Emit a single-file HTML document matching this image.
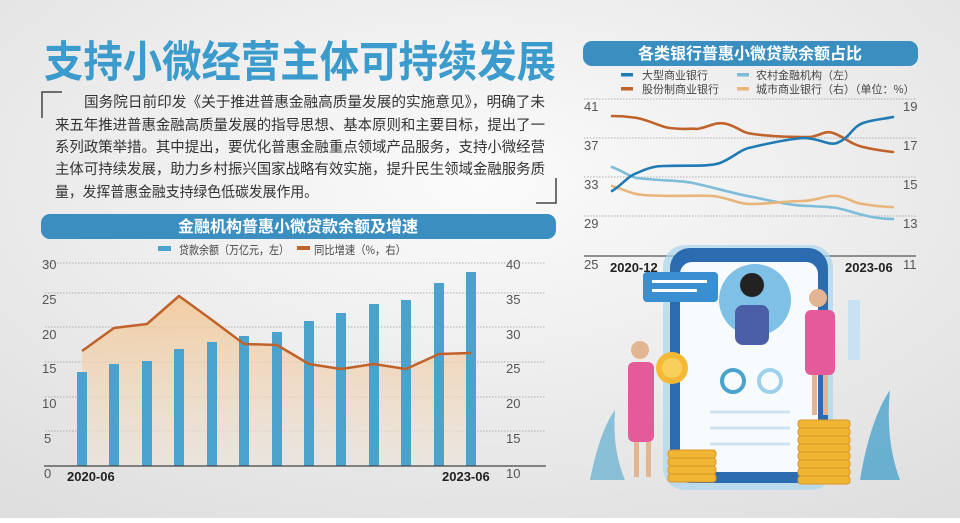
<!DOCTYPE html>
<html><head><meta charset="utf-8"><style>
html,body{margin:0;padding:0}
body{width:960px;height:518px;overflow:hidden;font-family:"Liberation Sans","Noto Sans CJK SC",sans-serif}
</style></head><body>
<svg width="960" height="518" viewBox="0 0 960 518" xmlns="http://www.w3.org/2000/svg" font-family="Liberation Sans, Noto Sans CJK SC, sans-serif">
<defs>
<radialGradient id="bg" cx="0.5" cy="0.35" r="0.8">
<stop offset="0" stop-color="#fbfbfb"/><stop offset="1" stop-color="#dedede"/></radialGradient>
<linearGradient id="fill" x1="0" y1="0" x2="0" y2="1">
<stop offset="0" stop-color="#f3c795" stop-opacity="0.85"/><stop offset="1" stop-color="#ece4da" stop-opacity="0.6"/></linearGradient>
</defs>
<rect width="960" height="518" fill="url(#bg)"/>
<text x="44" y="77" font-size="43" font-weight="bold" fill="#3a9bcc" textLength="512" lengthAdjust="spacingAndGlyphs" font-family="Noto Sans CJK SC, sans-serif">支持小微经营主体可持续发展</text>
<path d="M62,92 H42 V118" fill="none" stroke="#444" stroke-width="1.5"/>
<path d="M556,178 V203 H536" fill="none" stroke="#444" stroke-width="1.5"/>
<g font-size="14.5" fill="#333" font-family="Noto Sans CJK SC, sans-serif">
<text x="84" y="107" textLength="461" lengthAdjust="spacingAndGlyphs">国务院日前印发《关于推进普惠金融高质量发展的实施意见》，明确了未</text>
<text x="55" y="130" textLength="490" lengthAdjust="spacingAndGlyphs">来五年推进普惠金融高质量发展的指导思想、基本原则和主要目标，提出了一</text>
<text x="55" y="152" textLength="490" lengthAdjust="spacingAndGlyphs">系列政策举措。其中提出，要优化普惠金融重点领域产品服务，支持小微经营</text>
<text x="55" y="174" textLength="490" lengthAdjust="spacingAndGlyphs">主体可持续发展，助力乡村振兴国家战略有效实施，提升民生领域金融服务质</text>
<text x="55" y="197" textLength="263" lengthAdjust="spacingAndGlyphs">量，发挥普惠金融支持绿色低碳发展作用。</text>
</g>

<rect x="41" y="214" width="515" height="25" rx="9" fill="#3a8fc0"/>
<text x="298" y="232" font-size="16" font-weight="bold" fill="#fff" text-anchor="middle" font-family="Noto Sans CJK SC, sans-serif">金融机构普惠小微贷款余额及增速</text>
<rect x="158" y="246" width="13" height="5" fill="#4aa3cc"/>
<text x="179" y="254" font-size="11.5" fill="#444" font-family="Noto Sans CJK SC, sans-serif" textLength="110" lengthAdjust="spacingAndGlyphs">贷款余额（万亿元，左）</text>
<rect x="297" y="246" width="13" height="4" fill="#c0622a"/>
<text x="314" y="254" font-size="11.5" fill="#444" font-family="Noto Sans CJK SC, sans-serif" textLength="92" lengthAdjust="spacingAndGlyphs">同比增速（%，右）</text>
<g stroke="#999" stroke-width="0.8" stroke-dasharray="1.5,1.5">
<line x1="45" y1="263" x2="545" y2="263"/><line x1="45" y1="293" x2="545" y2="293"/>
<line x1="45" y1="327" x2="545" y2="327"/><line x1="45" y1="362" x2="545" y2="362"/>
<line x1="45" y1="397" x2="545" y2="397"/><line x1="45" y1="431" x2="545" y2="431"/>
</g>
<path d="M82,351 L114,328 L147,324 L179,296 L212,320 L244,344 L277,345 L309,364 L341,369 L374,364 L406,369 L439,354 L471,353 L471,466 L82,466 Z" fill="url(#fill)"/>
<g fill="#4aa3cc">
<rect x="77" y="372" width="10" height="94"/><rect x="109" y="364" width="10" height="102"/>
<rect x="142" y="361" width="10" height="105"/><rect x="174" y="349" width="10" height="117"/>
<rect x="207" y="342" width="10" height="124"/><rect x="239" y="336" width="10" height="130"/>
<rect x="272" y="332" width="10" height="134"/><rect x="304" y="321" width="10" height="145"/>
<rect x="336" y="313" width="10" height="153"/><rect x="369" y="304" width="10" height="162"/>
<rect x="401" y="300" width="10" height="166"/><rect x="434" y="283" width="10" height="183"/>
<rect x="466" y="272" width="10" height="194"/>
</g>
<polyline points="82,351 114,328 147,324 179,296 212,320 244,344 277,345 309,364 341,369 374,364 406,369 439,354 471,353" fill="none" stroke="#c0622a" stroke-width="2.5" stroke-linejoin="round"/>
<line x1="44" y1="466" x2="546" y2="466" stroke="#444" stroke-width="1.2"/>
<g font-size="13" fill="#555">
<text x="42" y="269">30</text><text x="42" y="304">25</text><text x="42" y="339">20</text>
<text x="42" y="373">15</text><text x="42" y="408">10</text><text x="44" y="443">5</text><text x="44" y="478">0</text>
<text x="506" y="269">40</text><text x="506" y="304">35</text><text x="506" y="339">30</text>
<text x="506" y="373">25</text><text x="506" y="408">20</text><text x="506" y="443">15</text><text x="506" y="478">10</text>
</g>
<text x="67" y="481" font-size="13" font-weight="bold" fill="#222">2020-06</text>
<text x="442" y="481" font-size="13" font-weight="bold" fill="#222">2023-06</text>

<rect x="583" y="41" width="335" height="25" rx="9" fill="#3a8fc0"/>
<text x="750" y="59" font-size="16" font-weight="bold" fill="#fff" text-anchor="middle" font-family="Noto Sans CJK SC, sans-serif">各类银行普惠小微贷款余额占比</text>
<g font-size="11" fill="#444" font-family="Noto Sans CJK SC, sans-serif">
<rect x="621" y="73" width="12" height="3.5" fill="#1f7ab5"/><text x="642" y="79">大型商业银行</text>
<rect x="737" y="73" width="12" height="3.5" fill="#7dbdd8"/><text x="756" y="79">农村金融机构（左）</text>
<rect x="621" y="87" width="12" height="3.5" fill="#c0622a"/><text x="642" y="93">股份制商业银行</text>
<rect x="737" y="87" width="12" height="3.5" fill="#e8b57a"/><text x="756" y="93">城市商业银行（右）（单位：%）</text>
</g>
<g stroke="#999" stroke-width="0.8" stroke-dasharray="1.5,1.5">
<line x1="584" y1="99" x2="916" y2="99"/><line x1="584" y1="138" x2="916" y2="138"/>
<line x1="584" y1="177" x2="916" y2="177"/><line x1="584" y1="216" x2="916" y2="216"/>
</g>
<line x1="584" y1="256" x2="916" y2="256" stroke="#555" stroke-width="1.2"/>
<g fill="none" stroke-width="2.6" stroke-linecap="round">
<path d="M612,167 C625,172 630,177 637,178 C660,181 680,180 693,183 C720,189 735,194 753,197 C780,203 795,206 810,206 C825,207 830,207 837,208 C850,211 855,213 863,215 C875,218 885,219 893,219" stroke="#7dbdd8"/>
<path d="M612,186 C625,190 632,194 643,195 C670,197 695,195 713,196 C730,198 738,204 750,204 C770,204 785,201 803,201 C820,200 825,195 837,196 C850,198 852,203 863,204 C875,206 885,207 893,207" stroke="#e8b57a"/>
<path d="M612,116 C625,116 630,117 637,118 C652,121 660,127 670,128 C685,130 690,128 697,129 C710,127 715,121 727,124 C740,128 742,133 753,134 C775,137 795,137 810,137 C820,136 825,130 833,133 C845,137 850,144 863,147 C875,150 885,151 893,152" stroke="#c0622a"/>
<path d="M612,191 C622,185 628,176 637,173 C648,168 655,166 663,166 C690,165 708,167 720,163 C735,157 740,149 753,147 C770,143 790,139 803,138 C820,138 828,146 837,143 C850,138 852,127 863,123 C875,119 885,119 893,117" stroke="#1f7ab5"/>
</g>
<g font-size="13" fill="#555">
<text x="584" y="111">41</text><text x="584" y="150">37</text><text x="584" y="189">33</text>
<text x="584" y="228">29</text><text x="584" y="269">25</text>
<text x="903" y="111">19</text><text x="903" y="150">17</text><text x="903" y="189">15</text>
<text x="903" y="228">13</text><text x="903" y="269">11</text>
</g>
<text x="610" y="272" font-size="13" font-weight="bold" fill="#222">2020-12</text>
<text x="845" y="272" font-size="13" font-weight="bold" fill="#222">2023-06</text>

<rect x="663" y="245" width="170" height="245" rx="22" fill="#aad6ee" opacity="0.7"/>
<rect x="670" y="248" width="158" height="235" rx="20" fill="#2b6cb0"/>
<rect x="680" y="262" width="138" height="210" rx="12" fill="#f7fbfe"/>
<rect x="643" y="272" width="75" height="30" rx="4" fill="#3a8fd0"/>
<rect x="652" y="280" width="55" height="3" fill="#fff"/><rect x="652" y="289" width="45" height="3" fill="#fff"/>
<circle cx="755" cy="300" r="36" fill="#7ec0e6"/>
<circle cx="752" cy="285" r="12" fill="#222"/>
<rect x="735" y="305" width="34" height="40" rx="8" fill="#4b5ea8"/>
<circle cx="733" cy="381" r="11" fill="none" stroke="#4aa3cc" stroke-width="4"/>
<circle cx="770" cy="381" r="11" fill="none" stroke="#9fd0ea" stroke-width="4"/>
<g stroke="#cfe3f0" stroke-width="3"><line x1="710" y1="412" x2="790" y2="412"/><line x1="710" y1="428" x2="790" y2="428"/><line x1="710" y1="444" x2="790" y2="444"/></g>
<circle cx="640" cy="350" r="9" fill="#e4b592"/>
<rect x="628" y="362" width="26" height="80" rx="6" fill="#e55a9b"/>
<rect x="634" y="442" width="5" height="35" fill="#e4b592"/><rect x="646" y="442" width="5" height="35" fill="#e4b592"/>
<circle cx="672" cy="368" r="16" fill="#f5b935"/><circle cx="672" cy="368" r="10" fill="#f8cf5a"/>
<circle cx="818" cy="298" r="9" fill="#e4b592"/>
<rect x="805" y="310" width="30" height="65" rx="6" fill="#e55a9b"/>
<rect x="812" y="375" width="5" height="40" fill="#e4b592"/><rect x="823" y="375" width="5" height="40" fill="#e4b592"/>
<g fill="#f0b533" stroke="#d9962a" stroke-width="1">
<rect x="668" y="450" width="48" height="8" rx="3"/><rect x="668" y="458" width="48" height="8" rx="3"/><rect x="668" y="466" width="48" height="8" rx="3"/><rect x="668" y="474" width="48" height="8" rx="3"/>
<rect x="798" y="420" width="52" height="8" rx="3"/><rect x="798" y="428" width="52" height="8" rx="3"/><rect x="798" y="436" width="52" height="8" rx="3"/><rect x="798" y="444" width="52" height="8" rx="3"/><rect x="798" y="452" width="52" height="8" rx="3"/><rect x="798" y="460" width="52" height="8" rx="3"/><rect x="798" y="468" width="52" height="8" rx="3"/><rect x="798" y="476" width="52" height="8" rx="3"/>
</g>
<path d="M860,480 Q870,420 890,390 Q885,440 900,480 Z" fill="#4aa3cc" opacity="0.8"/>
<path d="M590,480 Q600,430 615,410 Q612,450 625,480 Z" fill="#4aa3cc" opacity="0.6"/>
<rect x="848" y="300" width="12" height="60" fill="#c9e2f2"/>
</svg>
</body></html>
